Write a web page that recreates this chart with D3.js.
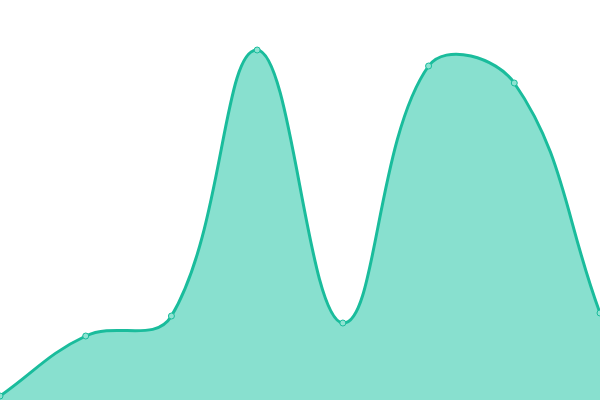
<!DOCTYPE html>
<html>
<head>
<meta charset="utf-8">
<script src="https://cdn.jsdelivr.net/npm/d3@7"></script>
<style>
  html, body { margin: 0; padding: 0; background: #fff; }
  svg { display: block; }
</style>
</head>
<body>
<script>
// data
var categories = ["A", "B", "C", "D", "E", "F", "G", "H"];
var values = [4, 64, 84, 350, 77, 334, 317, 87];

var width = 600,
    height = 400;

var svg = d3.select("body")
    .append("svg")
    .attr("width", width)
    .attr("height", height);

// x spans the full width, one step per category
var x = d3.scalePoint()
    .domain(categories)
    .range([0, width]);

var y = d3.scaleLinear()
    .domain([0, 400])
    .range([height, 0]);

//distance weighted spline (tension 0.4), control points kept inside the frame
function splineCurve(context){ return new Spline(context); }

function Spline(context){ this._context = context; }

Spline.prototype = {
    areaStart: function(){ this._line = 0; },
    areaEnd: function(){ this._line = NaN; },
    lineStart: function(){ this._x = []; this._y = []; },
    point: function(px, py){ this._x.push(+px); this._y.push(+py); },
    lineEnd: function(){
        var xs = this._x, ys = this._y, n = xs.length, ctx = this._context;
        if (n){
            this._line ? ctx.lineTo(xs[0], ys[0]) : ctx.moveTo(xs[0], ys[0]);
            var cp = [];
            for (var i = 0; i < n; i++){
                var pi = i > 0 ? i - 1 : i,
                    ni = i < n - 1 ? i + 1 : i;
                var d01 = Math.hypot(xs[i] - xs[pi], ys[i] - ys[pi]),
                    d12 = Math.hypot(xs[ni] - xs[i], ys[ni] - ys[i]);
                var s01 = d01 / (d01 + d12), s12 = d12 / (d01 + d12);
                if (isNaN(s01)) s01 = 0;
                if (isNaN(s12)) s12 = 0;
                var fa = 0.4 * s01, fb = 0.4 * s12,
                    dx = xs[ni] - xs[pi], dy = ys[ni] - ys[pi];
                cp.push({
                    px: clamp(xs[i] - fa * dx, 0, width), py: clamp(ys[i] - fa * dy, 0, height),
                    nx: clamp(xs[i] + fb * dx, 0, width), ny: clamp(ys[i] + fb * dy, 0, height)
                });
            }
            for (var j = 1; j < n; j++){
                ctx.bezierCurveTo(cp[j-1].nx, cp[j-1].ny, cp[j].px, cp[j].py, xs[j], ys[j]);
            }
        }
        if (this._line || (this._line !== 0 && n === 1)) ctx.closePath();
        this._line = 1 - this._line;
        this._x = this._y = null;
    }
};

function clamp(v, lo, hi){ return Math.max(lo, Math.min(hi, v)); }

var area = d3.area()
    .x(function(d, i){ return x(categories[i]); })
    .y0(height)
    .y1(function(d){ return y(d); })
    .curve(splineCurve);

var line = d3.line()
    .x(function(d, i){ return x(categories[i]); })
    .y(function(d){ return y(d); })
    .curve(splineCurve);

svg.append("path")
    .datum(values)
    .attr("d", area)
    .style("fill", "#88e0cf");

svg.append("path")
    .datum(values)
    .attr("d", line)
    .style("fill", "none")
    .style("stroke", "#1abc9c")
    .style("stroke-width", 3);

svg.selectAll(".dot")
    .data(values)
    .enter()
    .append("circle")
    .attr("class", "dot")
    .attr("cx", function(d, i){ return x(categories[i]); })
    .attr("cy", function(d){ return y(d); })
    .attr("r", 3)
    .style("fill", "#8ee3d2")
    .style("stroke", "#1abc9c")
    .style("stroke-width", 1);
</script>
</body>
</html>
